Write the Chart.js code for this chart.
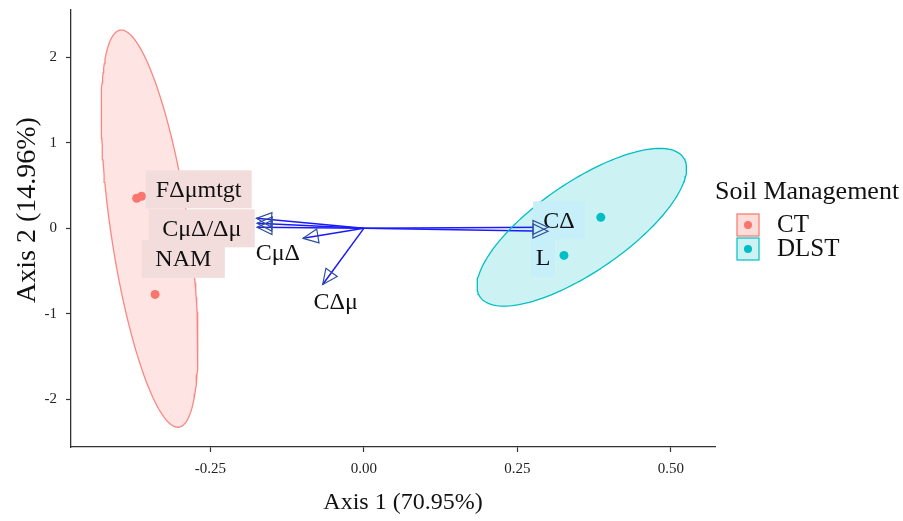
<!DOCTYPE html>
<html lang="en">
<head>
<meta charset="UTF-8">
<title>Soil Management biplot</title>
<script src="https://cdn.jsdelivr.net/npm/chart.js"></script>
<style>
  html, body { margin: 0; padding: 0; background: #fff; }
  .wrap { position: relative; width: 903px; height: 521px; }
</style>
</head>
<body>
<div class="wrap"><canvas id="biplot"></canvas></div>
<script>
// sample scores
const groups = ['CT', 'DLST'];
const ctAxis1 = [-0.370, -0.362, -0.340];
const ctAxis2 = [0.352, 0.375, -0.774];
const dlstAxis1 = [0.386, 0.326];
const dlstAxis2 = [0.129, -0.317];

// confidence ellipses: centre, semi-diameter u and its (horizontal) conjugate v
const ctEllipse = { cx: -0.349, cy: -0.004, ux: -0.046, uy: 2.325, vx: 0.064 };
const dlstEllipse = { cx: 0.355, cy: 0.012, ux: 0.127, uy: 0.923, vx: 0.114 };

// variable vectors
const vectorNames = ['F\u0394\u03bcmtgt', 'C\u03bc\u0394/\u0394\u03bc', 'NAM', 'C\u03bc\u0394', 'C\u0394\u03bc', 'C\u0394', 'L'];
const vectorAxis1 = [-0.175, -0.174, -0.174, -0.099, -0.067, 0.300, 0.300];
const vectorAxis2 = [0.117, 0.059, 0.012, -0.117, -0.657, 0.012, -0.035];

const xTicks = [-0.25, 0, 0.25, 0.5];
const yTicks = [-2, -1, 0, 1, 2];

// where the vector labels sit (data units), box kind and box width
const labelPlacement = [
  { x: -0.269, y: 0.457, box: 'ct', w: 106 },
  { x: -0.264, y: 0.0, box: 'ct', w: 106 },
  { x: -0.294, y: -0.358, box: 'ct', w: 83 },
  { x: -0.140, y: -0.281, box: null },
  { x: -0.046, y: -0.862, box: null },
  { x: 0.318, y: 0.094, box: 'dlst', w: 52 },
  { x: 0.292, y: -0.340, box: 'dlst', w: 24 }
];

const SERIF = '"Liberation Serif", "Times New Roman", serif';
const CT_COL = '#F8766D';
const DLST_COL = '#00BFC4';

function ellipsePoints(e) {
  const pts = [];
  for (let i = 0; i <= 160; i++) {
    const t = (i / 160) * Math.PI * 2;
    pts.push({ x: e.cx + e.ux * Math.cos(t) + e.vx * Math.sin(t), y: e.cy + e.uy * Math.cos(t) });
  }
  return pts;
}

const zip = (xs, ys) => xs.map((x, i) => ({ x: x, y: ys[i] }));

const datasets = [
  { data: ellipsePoints(ctEllipse), showLine: true, pointRadius: 0, borderColor: 'rgba(248,118,109,0.85)', borderWidth: 1.3, ellipseFill: 'rgba(248,118,109,0.2)' },
  { data: ellipsePoints(dlstEllipse), showLine: true, pointRadius: 0, borderColor: DLST_COL, borderWidth: 1.3, ellipseFill: 'rgba(0,191,196,0.2)' },
  { data: zip(ctAxis1, ctAxis2), pointRadius: 4.5, backgroundColor: CT_COL, borderWidth: 0 },
  { data: zip(dlstAxis1, dlstAxis2), pointRadius: 4.5, backgroundColor: DLST_COL, borderWidth: 0 }
];
vectorNames.forEach((n, i) => {
  datasets.push({ data: [{ x: 0, y: 0 }, { x: vectorAxis1[i], y: vectorAxis2[i] }], showLine: true, pointRadius: 0, borderColor: '#1a1aff', borderWidth: 1.5 });
});

const biplotExtras = {
  id: 'biplotExtras',
  beforeDatasetsDraw(chart) {
    const ctx = chart.ctx, a = chart.chartArea;
    ctx.save();
    ctx.beginPath();
    ctx.rect(a.left, a.top, a.right - a.left, a.bottom - a.top);
    ctx.clip();
    chart.data.datasets.forEach((ds, i) => {
      if (!ds.ellipseFill) return;
      const pts = chart.getDatasetMeta(i).data;
      ctx.beginPath();
      pts.forEach((p, k) => (k ? ctx.lineTo(p.x, p.y) : ctx.moveTo(p.x, p.y)));
      ctx.closePath();
      ctx.fillStyle = ds.ellipseFill;
      ctx.fill();
    });
    ctx.restore();
  },
  afterDatasetsDraw(chart) {
    const ctx = chart.ctx, sx = chart.scales.x, sy = chart.scales.y;
    ctx.save();
    // labels
    ctx.font = '24px ' + SERIF;
    ctx.textAlign = 'center';
    ctx.textBaseline = 'middle';
    vectorNames.forEach((name, i) => {
      const lp = labelPlacement[i];
      const px = sx.getPixelForValue(lp.x), py = sy.getPixelForValue(lp.y);
      if (lp.box) {
        ctx.fillStyle = lp.box === 'ct' ? '#f2dcdc' : '#c6eff9';
        ctx.fillRect(px - lp.w / 2, py - 19, lp.w, 38);
      }
      ctx.fillStyle = '#111';
      ctx.fillText(name, px, py + 1);
    });
    // arrow heads
    ctx.strokeStyle = '#2f4f9a';
    ctx.lineWidth = 1.2;
    vectorNames.forEach((name, i) => {
      const x0 = sx.getPixelForValue(0), y0 = sy.getPixelForValue(0);
      const x1 = sx.getPixelForValue(vectorAxis1[i]), y1 = sy.getPixelForValue(vectorAxis2[i]);
      const ang = Math.atan2(y1 - y0, x1 - x0);
      const len = 15, half = 7;
      const bx = x1 - len * Math.cos(ang), by = y1 - len * Math.sin(ang);
      ctx.beginPath();
      ctx.moveTo(x1, y1);
      ctx.lineTo(bx + half * Math.sin(ang), by - half * Math.cos(ang));
      ctx.lineTo(bx - half * Math.sin(ang), by + half * Math.cos(ang));
      ctx.closePath();
      ctx.stroke();
    });
    ctx.restore();
  },
  afterDraw(chart) {
    const ctx = chart.ctx;
    ctx.save();
    ctx.fillStyle = '#111';
    ctx.textBaseline = 'middle';
    // axis titles
    ctx.textAlign = 'center';
    ctx.font = '24px ' + SERIF;
    ctx.fillText('Axis 1 (70.95%)', 403, 503);
    ctx.save();
    ctx.translate(28, 210);
    ctx.rotate(-Math.PI / 2);
    ctx.font = '28px ' + SERIF;
    ctx.fillText('Axis 2 (14.96%)', 0, 0);
    ctx.restore();
    // legend
    ctx.textAlign = 'left';
    ctx.font = '26px ' + SERIF;
    ctx.fillText('Soil Management', 715, 192);
    ctx.font = '25px ' + SERIF;
    const fills = ['rgba(248,118,109,0.25)', 'rgba(0,191,196,0.2)'];
    const cols = [CT_COL, DLST_COL];
    groups.forEach((g, i) => {
      const top = 214 + i * 24;
      ctx.fillStyle = fills[i];
      ctx.fillRect(737, top, 22, 22);
      ctx.strokeStyle = cols[i];
      ctx.lineWidth = 1.2;
      ctx.strokeRect(737, top, 22, 22);
      ctx.beginPath();
      ctx.arc(748, top + 11, 4, 0, Math.PI * 2);
      ctx.fillStyle = cols[i];
      ctx.fill();
      ctx.fillStyle = '#111';
      ctx.fillText(g, 777, top + 11);
    });
    ctx.restore();
  }
};

const axisGrid = { display: true, drawOnChartArea: false, drawTicks: true, tickLength: 5, color: '#333', tickWidth: 1.2 };

new Chart(document.getElementById('biplot'), {
  type: 'scatter',
  data: { datasets: datasets },
  options: {
    responsive: true,
    maintainAspectRatio: false,
    animation: false,
    layout: { padding: { top: 10, right: 188, left: 0, bottom: 0 } },
    plugins: { legend: { display: false }, tooltip: { enabled: false } },
    elements: { line: { tension: 0 } },
    scales: {
      x: {
        type: 'linear',
        min: -0.477,
        max: 0.572,
        afterBuildTicks: s => { s.ticks = xTicks.map(v => ({ value: v })); },
        afterFit: s => { s.height = 74; s.paddingLeft = 0; s.paddingRight = 0; },
        grid: axisGrid,
        border: { display: true, color: '#333', width: 1.3 },
        ticks: { callback: v => v.toFixed(2), font: { family: SERIF, size: 15 }, color: '#222', padding: 8, maxRotation: 0 }
      },
      y: {
        type: 'linear',
        min: -2.56,
        max: 2.556,
        afterBuildTicks: s => { s.ticks = yTicks.map(v => ({ value: v })); },
        afterFit: s => { s.width = 71; s.paddingTop = 0; s.paddingBottom = 0; },
        grid: axisGrid,
        border: { display: true, color: '#333', width: 1.3 },
        ticks: { callback: v => String(v), font: { family: SERIF, size: 15 }, color: '#222', padding: 9 }
      }
    }
  },
  plugins: [biplotExtras]
});
</script>
</body>
</html>
